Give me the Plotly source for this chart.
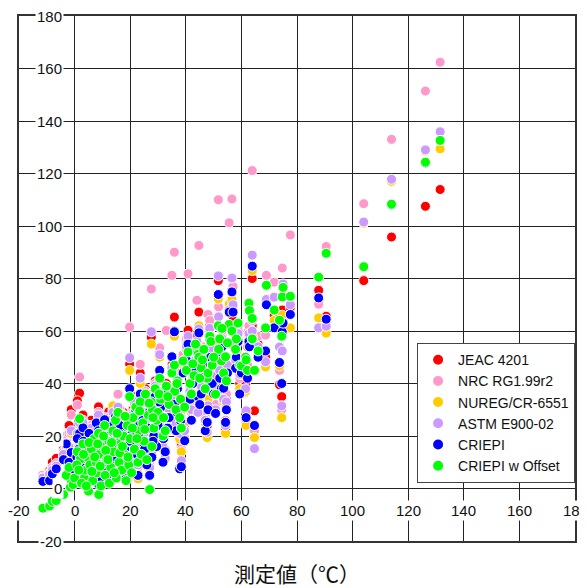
import plotly.graph_objects as go

# ---- data (measured value vs. predicted value per method) ----
measured = [
    -11.4, -9.0, -8.0, -6.6, -1.2, -4.0, -3.0, -2.0, -1.5, -0.5,
    1.8, 1.0, 2.0, 3.0, 3.5, 4.0, 4.5, 5.0, 5.5, 6.0,
    6.5, 7.0, 7.8, 8.0, 8.6, 8.7, 9.0, 9.5, 10.0, 10.8,
    11.0, 11.5, 12.3, 12.5, 13.0, 13.8, 14.0, 14.7, 15.0, 15.6,
    16.0, 16.5, 17.0, 17.5, 18.0, 18.5, 19.0, 19.5, 19.8, 20.0,
    20.5, 21.0, 21.5, 22.0, 22.8, 23.0, 23.6, 24.0, 24.5, 25.0,
    25.5, 26.0, 26.5, 27.0, 27.6, 27.8, 28.0, 28.5, 29.0, 29.5,
    30.0, 30.6, 31.0, 31.8, 32.0, 32.6, 33.0, 34.0, 35.0, 35.9,
    36.0, 36.5, 37.0, 37.8, 38.1, 38.4, 39.0, 39.6, 40.2, 40.8,
    41.5, 42.0, 43.0, 44.0, 44.4, 44.7, 45.5, 46.0, 47.0, 47.7,
    48.0, 48.6, 49.5, 50.7, 51.7, 51.8, 52.8, 53.6, 54.3, 54.6,
    55.6, 56.6, 57.0, 57.9, 58.2, 59.4, 60.0, 61.5, 61.7, 62.2,
    62.7, 62.9, 63.9, 63.9, 64.7, 66.0, 68.7, 69.0, 71.8, 73.7,
    74.5, 74.7, 75.0, 77.6, 87.8, 90.5, 104.0, 114.0, 126.2, 131.5,
    0.0, 0.8, 1.5, 2.5, 3.2, 4.2, 5.2, 6.2, 7.2, 8.3,
    9.2, 10.4, 11.2, 12.0, 13.3, 14.3, 15.3, 16.2, 17.2, 18.2,
    19.2, 20.8, 22.4, 23.4, 25.2, 26.8, 28.2, 30.4, 33.5, 36.8,
    42.5, 43.5, 45.0, 46.5, 49.0, 50.0, 52.2, 53.0, 55.0, 58.8,
]

jeac = [
    5.0, 6.8, 10.0, 11.5, 30.0, 15.0, 20.0, 24.0, 8.0, 12.0,
    36.3, 33.4, 18.0, 28.0, 9.0, 14.0, 22.0, 6.0, 17.0, 26.0,
    11.0, 20.0, 25.0, 13.0, 31.1, 4.0, 16.0, 9.0, 22.0, 28.0,
    12.0, 18.0, 29.2, 7.0, 15.0, 31.5, 21.0, 27.3, 10.0, 35.9,
    17.0, 24.0, 13.0, 29.0, 20.0, 8.0, 26.0, 16.0, 47.4, 23.0,
    12.0, 30.0, 19.0, 35.0, 9.0, 25.0, 44.0, 16.0, 31.0, 21.0,
    38.0, 13.0, 27.0, 8.0, 57.6, 14.0, 33.0, 24.0, 41.0, 20.0,
    28.0, 52.0, 35.0, 16.0, 23.0, 13.0, 40.0, 30.0, 47.0, 65.3,
    36.0, 25.0, 43.0, 20.0, 28.0, 17.0, 50.0, 24.0, 56.0, 60.3,
    38.0, 30.0, 46.0, 58.0, 33.0, 67.2, 40.0, 52.0, 27.0, 24.0,
    36.0, 62.0, 44.0, 30.0, 79.2, 56.0, 42.0, 35.0, 22.6, 34.0,
    70.0, 66.0, 64.0, 50.0, 56.0, 40.0, 48.0, 39.7, 26.0, 45.0,
    60.0, 57.0, 80.0, 62.0, 29.6, 55.0, 50.0, 72.0, 66.0, 39.5,
    35.0, 68.0, 62.0, 69.0, 75.5, 65.6, 79.2, 95.8, 107.5, 113.9,
    10.0, 16.0, 22.0, 12.0, 20.0, 7.0, 24.0, 15.0, 10.0, 19.0,
    27.0, 14.0, 25.0, 10.0, 23.0, 16.0, 20.0, 30.0, 11.0, 25.0,
    14.0, 26.0, 16.0, 29.0, 18.0, 33.0, 22.0, 38.0, 27.0, 33.0,
    44.0, 50.0, 36.0, 48.0, 54.0, 40.0, 46.0, 58.0, 48.0, 60.0,
]

nrc = [
    4.5, 6.0, 8.0, 9.5, 28.0, 14.0, 18.5, 21.0, 7.0, 10.5,
    42.5, 31.8, 16.0, 26.0, 8.0, 13.0, 20.0, 5.5, 16.0, 24.0,
    10.0, 19.0, 23.0, 12.0, 29.0, 3.5, 15.0, 8.5, 21.0, 27.0,
    11.5, 17.0, 27.0, 7.5, 14.5, 30.0, 20.0, 26.0, 10.5, 35.9,
    17.5, 23.0, 13.5, 28.0, 20.5, 9.0, 25.0, 16.5, 61.5, 22.5,
    13.0, 29.0, 19.5, 34.0, 8.0, 24.0, 47.3, 16.5, 30.0, 22.0,
    37.0, 14.0, 27.5, 9.0, 76.0, 14.5, 32.0, 25.0, 40.0, 21.0,
    29.0, 53.6, 36.0, 17.0, 24.0, 15.0, 60.2, 31.0, 81.2, 90.0,
    37.0, 26.0, 44.0, 22.0, 29.0, 15.0, 51.0, 25.0, 57.0, 81.8,
    39.0, 31.0, 47.0, 71.7, 34.0, 92.6, 42.0, 54.0, 28.0, 25.0,
    66.3, 64.0, 46.0, 32.0, 110.0, 69.2, 44.0, 37.0, 26.0, 36.0,
    101.2, 110.3, 77.0, 52.0, 58.0, 42.0, 50.0, 36.5, 25.0, 47.0,
    62.0, 59.0, 121.1, 64.0, 22.0, 58.0, 58.4, 81.2, 78.6, 45.0,
    30.0, 84.0, 65.0, 96.6, 70.2, 92.2, 108.5, 133.0, 151.4, 162.4,
    9.0, 15.0, 20.0, 11.0, 19.0, 6.5, 22.0, 14.0, 9.5, 18.0,
    26.0, 13.5, 24.0, 10.0, 22.0, 15.5, 19.5, 29.0, 11.5, 24.5,
    14.5, 25.5, 17.0, 28.0, 19.0, 33.0, 23.0, 39.0, 28.0, 34.0,
    45.0, 51.0, 37.0, 50.0, 56.0, 42.0, 48.0, 60.0, 50.0, 62.0,
]

nureg = [
    3.5, 5.0, 6.5, 8.0, 21.0, 12.0, 16.0, 15.0, 6.0, 9.0,
    22.8, 19.0, 14.0, 24.0, 7.0, 12.0, 18.0, 5.0, 15.0, 22.0,
    9.5, 17.0, 21.0, 11.0, 27.0, 3.0, 14.0, 8.0, 19.0, 25.0,
    10.5, 16.0, 25.0, 7.0, 13.5, 31.5, 19.0, 24.0, 9.5, 30.0,
    16.0, 22.0, 12.5, 26.0, 19.0, 8.5, 24.0, 15.5, 45.0, 21.0,
    12.0, 27.0, 18.0, 32.0, 3.7, 23.0, 40.0, 15.0, 28.0, 20.0,
    35.0, 13.0, 25.0, 7.0, 55.0, 13.0, 30.0, 23.0, 38.0, 19.0,
    27.0, 50.0, 33.0, 15.0, 22.0, 12.0, 38.0, 29.0, 45.0, 58.0,
    34.0, 24.0, 41.0, 18.9, 26.0, 14.0, 47.0, 19.4, 53.0, 56.0,
    36.0, 29.0, 44.0, 55.0, 31.0, 62.0, 38.0, 50.0, 25.0, 19.4,
    34.0, 60.0, 42.0, 29.0, 72.2, 54.0, 40.0, 33.0, 21.0, 31.1,
    70.3, 72.0, 69.5, 48.0, 52.0, 38.0, 43.5, 37.0, 24.0, 43.0,
    58.0, 55.0, 83.0, 58.0, 19.4, 53.0, 46.3, 70.0, 64.0, 46.7,
    27.0, 66.0, 60.0, 61.2, 65.0, 59.2, 101.0, 117.0, 128.5, 129.4,
    8.0, 13.0, 17.0, 10.0, 17.0, 6.0, 20.0, 13.0, 9.0, 16.0,
    24.0, 12.5, 22.0, 9.0, 21.0, 14.5, 18.5, 27.0, 10.5, 23.0,
    13.5, 24.0, 15.0, 27.0, 17.0, 31.0, 21.0, 36.0, 26.0, 31.0,
    42.0, 48.0, 34.0, 46.0, 52.0, 38.0, 44.0, 56.0, 46.0, 58.0,
]

astm = [
    4.0, 5.5, 7.0, 8.5, 22.0, 13.0, 17.0, 16.0, 5.0, 9.5,
    25.0, 21.0, 15.0, 25.0, 8.0, 12.5, 19.0, 5.0, 15.5, 23.0,
    10.0, 18.0, 22.0, 11.5, 28.0, 3.5, 14.5, 8.5, 20.0, 26.0,
    11.0, 16.5, 26.0, 7.5, 14.0, 29.0, 19.5, 25.0, 10.0, 31.0,
    16.5, 22.5, 13.0, 27.0, 19.5, 9.0, 24.5, 16.0, 49.8, 22.0,
    12.5, 28.0, 18.5, 33.0, 9.0, 23.5, 42.0, 16.0, 29.0, 21.0,
    36.0, 13.5, 26.0, 8.0, 59.7, 14.0, 31.0, 24.0, 39.0, 20.0,
    28.0, 51.0, 34.0, 16.0, 23.0, 11.6, 39.0, 30.0, 46.0, 60.0,
    35.0, 25.0, 42.0, 21.0, 27.0, 10.6, 48.0, 22.0, 54.3, 58.0,
    37.0, 30.0, 45.0, 56.0, 29.0, 60.8, 39.0, 51.0, 26.0, 21.4,
    31.5, 61.0, 43.0, 30.0, 81.0, 65.4, 41.0, 34.0, 24.0, 33.0,
    68.0, 80.2, 70.0, 49.0, 54.9, 43.5, 46.0, 38.0, 29.6, 53.9,
    59.0, 56.0, 88.9, 60.0, 15.2, 54.0, 48.3, 72.0, 72.9, 53.9,
    31.5, 52.4, 77.9, 70.0, 61.2, 61.8, 101.5, 117.8, 129.0, 135.9,
    8.5, 14.0, 18.0, 10.5, 18.0, 6.5, 21.0, 13.5, 9.5, 17.0,
    25.0, 13.0, 23.0, 9.5, 21.5, 15.0, 19.0, 28.0, 11.0, 23.5,
    14.0, 24.5, 16.0, 27.5, 18.0, 32.0, 22.0, 37.0, 27.0, 32.0,
    43.0, 49.0, 35.0, 47.0, 53.0, 39.0, 45.0, 57.0, 47.0, 59.0,
]

criepi = [
    2.7, 3.0, 5.6, 7.5, 13.7, 11.0, 17.0, 10.0, 4.0, 6.0,
    21.0, 19.0, 13.0, 23.1, 2.0, 9.0, 16.0, 3.0, 12.0, 20.0,
    7.0, 14.0, 25.0, 5.0, 22.0, 1.5, 10.0, 4.0, 17.0, 26.2,
    8.0, 13.0, 20.0, 3.0, 11.0, 24.0, 16.0, 27.3, 6.0, 28.0,
    12.0, 19.0, 9.0, 23.0, 15.0, 4.0, 21.0, 11.0, 38.0, 18.0,
    6.2, 25.0, 14.0, 30.0, 5.0, 21.0, 36.0, 12.0, 26.0, 17.0,
    33.0, 9.0, 23.0, 5.0, 15.7, 11.9, 28.0, 20.0, 35.0, 16.0,
    24.0, 45.0, 31.0, 10.0, 19.0, 14.0, 36.0, 27.0, 50.2, 59.7,
    32.0, 22.0, 38.0, 7.5, 25.8, 8.3, 44.0, 18.2, 49.0, 55.0,
    34.0, 26.0, 41.0, 52.0, 35.0, 59.3, 36.0, 47.0, 22.0, 25.2,
    30.0, 57.0, 40.0, 28.6, 73.9, 52.0, 38.0, 38.2, 25.2, 30.0,
    67.2, 74.9, 67.2, 45.8, 50.0, 36.0, 44.0, 50.0, 27.0, 42.0,
    56.0, 54.0, 84.7, 56.8, 24.0, 50.0, 52.4, 70.0, 61.2, 48.0,
    40.0, 59.7, 63.0, 66.3, 72.6, 64.5, 84.5, 108.0, 124.0, 132.6,
    7.0, 12.0, 15.0, 8.0, 18.0, 4.5, 21.0, 11.0, 6.0, 15.0,
    21.0, 10.0, 19.0, 5.0, 18.0, 12.0, 16.0, 24.0, 7.0, 20.0,
    10.0, 22.0, 13.0, 24.0, 15.0, 29.0, 18.0, 33.0, 23.0, 29.0,
    40.0, 45.0, 32.0, 44.0, 50.0, 36.0, 42.0, 54.0, 44.0, 56.0,
]

criepi_offset = [
    -7.5, -6.7, -4.9, -4.6, 3.0, -2.3, 5.0, 8.0, 0.5, 1.5,
    26.6, 14.0, 11.0, 17.0, 4.0, 7.0, 12.0, -1.0, 9.0, 15.0,
    3.0, 19.0, 10.0, 6.0, 21.0, -2.3, 13.0, 1.0, 16.0, 24.0,
    5.0, 11.0, 18.0, 2.0, 8.0, 22.0, 14.0, 26.0, 4.0, 29.0,
    10.0, 17.0, 7.0, 20.0, 13.0, 3.0, 24.0, 9.0, 35.0, 19.0,
    6.0, 27.0, 15.0, 31.0, 10.0, 22.0, 33.0, 13.0, 25.0, 18.0,
    36.0, 11.0, 28.0, -0.4, 33.0, 16.0, 30.0, 23.0, 38.0, 26.0,
    29.0, 42.0, 34.0, 20.0, 27.0, 22.0, 39.0, 32.0, 44.0, 47.0,
    37.0, 30.0, 41.0, 27.0, 34.0, 23.0, 48.6, 31.0, 45.0, 52.0,
    40.0, 36.0, 43.0, 54.0, 51.1, 50.0, 46.0, 49.0, 38.0, 42.0,
    44.0, 58.0, 47.0, 35.9, 62.0, 53.0, 48.6, 44.0, 50.2, 41.0,
    62.5, 60.0, 55.0, 53.0, 57.0, 47.0, 46.7, 50.0, 49.0, 45.0,
    70.6, 67.8, 64.8, 57.0, 45.0, 52.4, 61.2, 77.4, 68.0, 64.1,
    58.0, 73.0, 76.6, 73.2, 80.5, 89.6, 84.5, 108.3, 124.3, 132.6,
    4.0, 9.0, 7.0, 2.0, 13.0, 1.0, 17.5, 6.5, 12.0, 17.0,
    8.5, 20.0, 14.5, 11.0, 17.5, 6.0, 21.0, 13.5, 16.0, 27.5,
    12.0, 23.0, 19.0, 29.5, 22.5, 32.5, 27.0, 36.0, 35.0, 40.0,
    47.5, 55.0, 42.0, 53.0, 56.0, 50.0, 57.0, 61.0, 55.5, 63.0,
]

series_names = ["JEAC 4201", "NRC RG1.99r2", "NUREG/CR-6551",
                "ASTM E900-02", "CRIEPI", "CRIEPI w Offset"]
series_values = [jeac, nrc, nureg, astm, criepi, criepi_offset]
series_colors = ["#FF0000", "#FF99CC", "#FFCC00", "#CC99FF", "#0000FF", "#00FF00"]

tick_values = [-20, 0, 20, 40, 60, 80, 100, 120, 140, 160, 180]
x_title = "測定値（℃）"

# ---- figure ----
fig = go.Figure()
for name, vals, col in zip(series_names, series_values, series_colors):
    fig.add_trace(go.Scatter(
        x=measured, y=vals, mode="markers", name=name,
        marker=dict(color=col, size=10, line=dict(color="white", width=1)),
    ))

num_font = dict(family="Liberation Sans, Arial, sans-serif", size=15, color="#111")

annotations = []
for v in tick_values:
    annotations.append(dict(
        x=0, y=v, xref="x", yref="y", text=str(v), showarrow=False,
        xanchor="right", yanchor="middle", xshift=-11,
        bgcolor="white", borderpad=1, font=num_font))
    annotations.append(dict(
        x=v, y=0, xref="x", yref="y", text=str(v), showarrow=False,
        xanchor="center", yanchor="top", yshift=-11,
        bgcolor="white", borderpad=1, font=num_font))
annotations.append(dict(
    x=0.5, y=-0.061, xref="paper", yref="paper", text=x_title, showarrow=False,
    xanchor="center", yanchor="middle",
    font=dict(family="Noto Sans CJK JP", size=21, color="#111")))

axis_common = dict(
    range=[-20, 180], dtick=20, tick0=0, showgrid=True, gridcolor="#222",
    gridwidth=1, zeroline=False, showticklabels=False, ticks="",
    showline=True, mirror=True, linecolor="#333", linewidth=1.5,
)

# page body has an 8px default margin, so the figure is sized to fit
fig.update_layout(
    width=579, height=580,
    margin=dict(l=11, r=12, t=6, b=47),
    paper_bgcolor="white", plot_bgcolor="white",
    xaxis=axis_common, yaxis=axis_common,
    showlegend=True,
    legend=dict(
        x=0.716, y=0.377, xanchor="left", yanchor="top",
        bgcolor="white", bordercolor="#444", borderwidth=1,
        font=dict(family="Liberation Sans, Arial, sans-serif", size=14, color="#111"),
        itemsizing="constant",
    ),
    annotations=annotations,
)

fig.write_html("out.html")
